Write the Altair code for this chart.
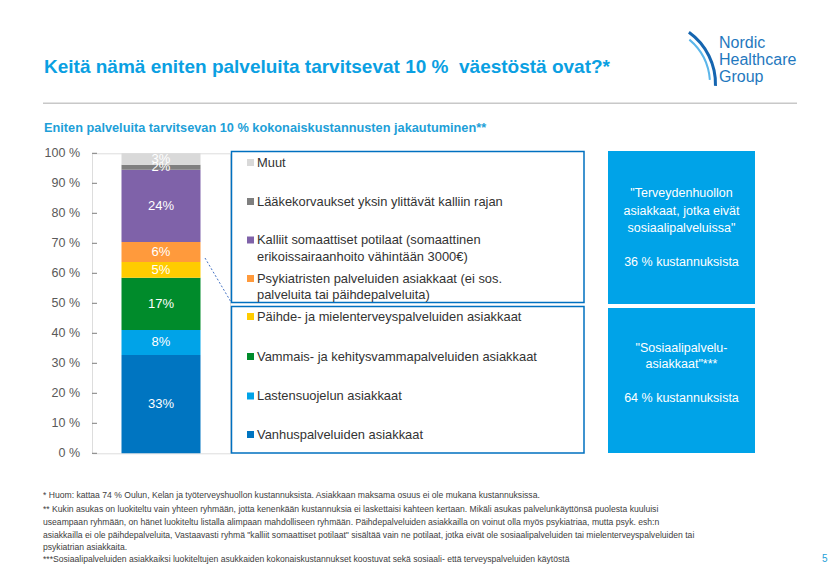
import altair as alt
import pandas as pd

# ---------------- data ----------------
categories = [
    "Vanhuspalveluiden asiakkaat",
    "Lastensuojelun asiakkaat",
    "Vammais- ja kehitysvammapalveluiden asiakkaat",
    "Päihde- ja mielenterveyspalveluiden asiakkaat",
    "Psykiatristen palveluiden asiakkaat (ei sos. palveluita tai päihdepalveluita)",
    "Kalliit somaattiset potilaat (somaattinen erikoissairaanhoito vähintään 3000€)",
    "Lääkekorvaukset yksin ylittävät kalliin rajan",
    "Muut",
]
values = [32.8, 8.3, 17.4, 5.3, 6.6, 24.1, 1.7, 3.8]
labels = ["33%", "8%", "17%", "5%", "6%", "24%", "2%", "3%"]
colors = ["#0075C1", "#00A3E8", "#008B2B", "#FFCC00", "#FF9A3C", "#7F62A9", "#7F7F7F", "#D9D9D9"]
axis_ticks = [0, 10, 20, 30, 40, 50, 60, 70, 80, 90, 100]

legend_top = [
    ["Muut"],
    ["Lääkekorvaukset yksin ylittävät kalliin rajan"],
    ["Kalliit somaattiset potilaat (somaattinen", "erikoissairaanhoito vähintään 3000€)"],
    ["Psykiatristen palveluiden asiakkaat (ei sos.", "palveluita tai päihdepalveluita)"],
]
legend_bottom = [
    ["Päihde- ja mielenterveyspalveluiden asiakkaat"],
    ["Vammais- ja kehitysvammapalveluiden asiakkaat"],
    ["Lastensuojelun asiakkaat"],
    ["Vanhuspalveluiden asiakkaat"],
]
legend_top_colors = ["#D9D9D9", "#7F7F7F", "#7F62A9", "#FF9A3C"]
legend_bottom_colors = ["#FFCC00", "#008B2B", "#00A3E8", "#0075C1"]

box_a = ['"Terveydenhuollon', 'asiakkaat, jotka eivät', 'sosiaalipalveluissa"', '36 % kustannuksista']
box_b = ['"Sosiaalipalvelu-', 'asiakkaat"***', '64 % kustannuksista']

title = "Keitä nämä eniten palveluita tarvitsevat 10 %\u00a0 väestöstä ovat?*"
subtitle = "Eniten palveluita tarvitsevan 10 % kokonaiskustannusten jakautuminen**"
footnotes = [
    "* Huom: kattaa 74 % Oulun, Kelan ja työterveyshuollon kustannuksista. Asiakkaan maksama osuus ei ole mukana kustannuksissa.",
    "** Kukin asukas on luokiteltu vain yhteen ryhmään, jotta kenenkään kustannuksia ei laskettaisi kahteen kertaan. Mikäli asukas palvelunkäyttönsä puolesta kuuluisi",
    "useampaan ryhmään, on hänet luokiteltu listalla alimpaan mahdolliseen ryhmään. Päihdepalveluiden asiakkailla on voinut olla myös psykiatriaa, mutta psyk. esh:n",
    "asiakkailla ei ole päihdepalveluita, Vastaavasti ryhmä \"kalliit somaattiset potilaat\" sisältää vain ne potilaat, jotka eivät ole sosiaalipalveluiden tai mielenterveyspalveluiden tai",
    "psykiatrian asiakkaita.",
    "***Sosiaalipalveluiden asiakkaiksi luokiteltujen asukkaiden kokonaiskustannukset koostuvat sekä sosiaali- että terveyspalveluiden käytöstä",
]
logo_lines = ["Nordic", "Healthcare", "Group"]
page_no = "5"

# ---------------- layout ----------------
FONT = "Liberation Sans"
OX, OY = 92.0, 153.3          # page position of plot origin
PW, PH = 138, 300             # plot area
PAD_L, PAD_T = OX - 8, OY - 8

def X(px):
    return px - OX

def Y(py):
    return py - OY

dummy = pd.DataFrame({"k": [0]})

def txt(s, x, y, size, color, weight="normal", align="left", font=FONT):
    return alt.Chart(dummy).mark_text(
        text=s, align=align, baseline="middle", fontSize=size, color=color,
        fontWeight=weight, font=font
    ).encode(x=alt.value(X(x)), y=alt.value(Y(y)))

def rect(x, y, x2, y2, **kw):
    return alt.Chart(dummy).mark_rect(**kw).encode(
        x=alt.value(X(x)), x2=alt.value(X(x2)), y=alt.value(Y(y)), y2=alt.value(Y(y2))
    )

def rule(x, y, x2, y2, **kw):
    return alt.Chart(dummy).mark_rule(**kw).encode(
        x=alt.value(X(x)), x2=alt.value(X(x2)), y=alt.value(Y(y)), y2=alt.value(Y(y2))
    )

df = pd.DataFrame({
    "g": ["bar"] * len(values),
    "cat": categories,
    "value": values,
    "label": labels,
    "order": list(range(len(values))),
})

yscale = alt.Scale(domain=[0, 100], nice=False)
xscale = alt.Scale(paddingInner=0, paddingOuter=0)

bars = alt.Chart(df).mark_bar(size=79).encode(
    x=alt.X("g:N", scale=xscale, title=None,
            axis=alt.Axis(labels=False, ticks=False, domainColor="#7F7F7F", grid=False, title=None)),
    y=alt.Y("value:Q", stack="zero", scale=yscale, title=None,
            axis=alt.Axis(values=axis_ticks, labels=False, ticks=False,
                          domainColor="#7F7F7F", grid=False, title=None)),
    color=alt.Color("cat:N", scale=alt.Scale(domain=categories, range=colors), legend=None),
    order=alt.Order("order:Q"),
)

bar_text = alt.Chart(df).transform_window(
    cum="sum(value)", sort=[alt.SortField("order")], frame=[None, 0]
).transform_calculate(
    mid="datum.cum - datum.value / 2"
).mark_text(color="white", fontSize=13, font=FONT, baseline="middle").encode(
    x=alt.X("g:N", scale=xscale, axis=None),
    y=alt.Y("mid:Q", scale=yscale, axis=None),
    text="label:N",
)

tick_df = pd.DataFrame({"t": axis_ticks})
ticks = alt.Chart(tick_df).mark_rule(color="#7F7F7F", strokeWidth=1).encode(
    y=alt.Y("t:Q", scale=yscale, axis=None),
    x=alt.value(0), x2=alt.value(5),
)
tick_labels = alt.Chart(tick_df).transform_calculate(
    lab="datum.t + ' %'"
).mark_text(align="right", baseline="middle", fontSize=12.5, color="#595959", font=FONT).encode(
    y=alt.Y("t:Q", scale=yscale, axis=None),
    x=alt.value(-12),
    text="lab:N",
)

layers = [bars, bar_text, ticks, tick_labels]

# dashed connector
layers.append(rule(205, 258, 231, 302, color="#4472C4", strokeDash=[2, 2], strokeWidth=1))

# legend boxes
layers.append(rect(231.5, 151.5, 584, 302.5, fill=None, filled=False, stroke="#0070C0", strokeWidth=1.5))
layers.append(rect(231.5, 306.5, 584, 453, fill=None, filled=False, stroke="#0070C0", strokeWidth=1.5))

LEG_TXT = "#333333"
top_y = [[162.5], [201.5], [240, 256.5], [278.5, 294.5]]
bot_y = [[316.5], [356.5], [396], [434.5]]
for items, ys, cols in [(legend_top, top_y, legend_top_colors), (legend_bottom, bot_y, legend_bottom_colors)]:
    for lines, yy, c in zip(items, ys, cols):
        layers.append(rect(247, yy[0] - 3.5, 254, yy[0] + 3.5, color=c))
        for line, ly in zip(lines, yy):
            layers.append(txt(line, 257, ly, 12.9, LEG_TXT))

# blue boxes
BLUE = "#00A3E8"
layers.append(rect(608, 151, 755, 304, color=BLUE))
layers.append(rect(608, 308, 755, 453, color=BLUE))
for s, yy in zip(box_a, [193.3, 210.7, 228.3, 261.7]):
    layers.append(txt(s, 681.5, yy, 12.5, "white", align="center"))
for s, yy in zip(box_b, [348.3, 364.3, 397.7]):
    layers.append(txt(s, 681.5, yy, 12.5, "white", align="center"))

# title, separator, subtitle
layers.append(txt(title, 44, 66.7, 19, "#0AA0E2", weight="bold"))
layers.append(rule(43, 103.3, 797, 103.3, color="#C8C8C8", strokeWidth=1.5))
layers.append(txt(subtitle, 44, 128.3, 12.75, "#1E9FD8", weight="bold"))

# logo
layers.append(alt.Chart(dummy).mark_arc(theta=0.62, theta2=1.6, radius=62, radius2=65, color="#1565B0").encode(
    x=alt.value(X(652)), y=alt.value(Y(84))))
layers.append(alt.Chart(dummy).mark_arc(theta=0.7, theta2=1.5, radius=57, radius2=59, color="#5BB6EA").encode(
    x=alt.value(X(652)), y=alt.value(Y(84))))
for s, yy in zip(logo_lines, [43, 60, 77]):
    layers.append(txt(s, 719, yy, 16, "#1F78BE"))

# footnotes
for s, yy in zip(footnotes, [495, 508.5, 521.5, 534.5, 547, 559]):
    layers.append(txt(s, 43, yy, 8.6, "#404040"))
layers.append(txt(page_no, 822, 559, 10, "#1E9FD8"))

chart = alt.layer(*layers).properties(
    width=PW, height=PH,
    padding={"left": PAD_L, "top": PAD_T, "right": 823 - PAD_L - PW, "bottom": 564 - PAD_T - PH},
    autosize=alt.AutoSizeParams(type="none"),
).configure_view(stroke=None).configure(font=FONT)

chart.save("out.html", embed_options={"renderer": "svg", "actions": False})
